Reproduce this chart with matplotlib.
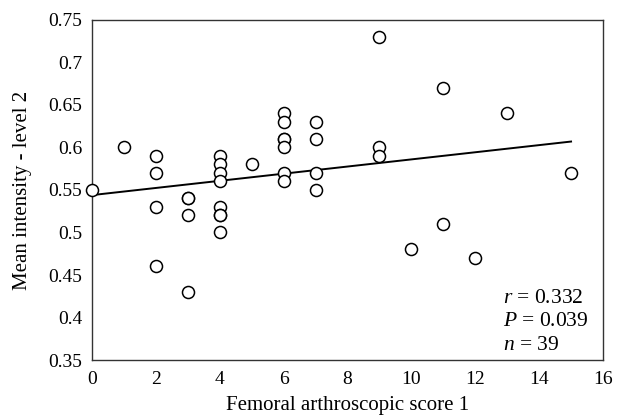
import numpy as np
import matplotlib.pyplot as plt

plt.rcParams['font.family'] = ['Liberation Serif', 'DejaVu Serif']
plt.rcParams['mathtext.fontset'] = 'custom'
plt.rcParams['mathtext.it'] = 'Liberation Serif:italic'
plt.rcParams['mathtext.rm'] = 'Liberation Serif'

# femoral arthroscopic score vs mean intensity (level 2)
score = [0, 1, 2, 2, 2, 2, 3, 3, 3, 4, 4, 4, 4, 4, 4, 4, 4, 5,
         6, 6, 6, 6, 6, 6, 6, 7, 7, 7, 7, 9, 9, 9, 10, 11, 11, 12, 13, 15, 3]
intensity = [0.55, 0.60, 0.59, 0.57, 0.53, 0.46, 0.54, 0.52, 0.43,
             0.59, 0.58, 0.57, 0.56, 0.53, 0.52, 0.52, 0.50, 0.58,
             0.64, 0.63, 0.61, 0.61, 0.60, 0.57, 0.56, 0.63, 0.61, 0.57, 0.55,
             0.73, 0.60, 0.59, 0.48, 0.67, 0.51, 0.47, 0.64, 0.57, 0.54]

# fitted line as drawn in the figure
fit_intercept = 0.544
fit_slope = 0.0042

fig = plt.figure(figsize=(6.19, 4.19), dpi=100)
ax = fig.add_axes([92 / 619, 1 - 360 / 419, (603 - 92) / 619, (360 - 20) / 419])

ax.scatter(score, intensity, s=75, facecolors='white', edgecolors='black',
           linewidths=1.1, zorder=3, clip_on=False)
xs = np.array([0, 15])
ax.plot(xs, fit_intercept + fit_slope * xs, color='black', lw=1.4, zorder=2)

ax.set_xlim(0, 16)
ax.set_ylim(0.35, 0.75)
ax.set_xticks(range(0, 17, 2))
ax.set_yticks([0.35, 0.4, 0.45, 0.5, 0.55, 0.6, 0.65, 0.7, 0.75])
ax.set_yticklabels(['0.35', '0.4', '0.45', '0.5', '0.55', '0.6', '0.65', '0.7', '0.75'])
ax.tick_params(length=0, labelsize=14)
ax.tick_params(axis='y', pad=7)
ax.tick_params(axis='x', pad=8)
for sp in ax.spines.values():
    sp.set_color('#333333')
    sp.set_linewidth(1.0)

ax.set_xlabel('Femoral arthroscopic score 1', fontsize=15, labelpad=6)
ax.set_ylabel('Mean intensity - level 2', fontsize=15, labelpad=12)

ax.text(0.805, 0.182, '$r$ = 0.332', transform=ax.transAxes, fontsize=15.5, va='center')
ax.text(0.805, 0.112, '$P$ = 0.039', transform=ax.transAxes, fontsize=15.5, va='center')
ax.text(0.805, 0.044, '$n$ = 39', transform=ax.transAxes, fontsize=15.5, va='center')

fig.savefig('out.png', dpi=100)
